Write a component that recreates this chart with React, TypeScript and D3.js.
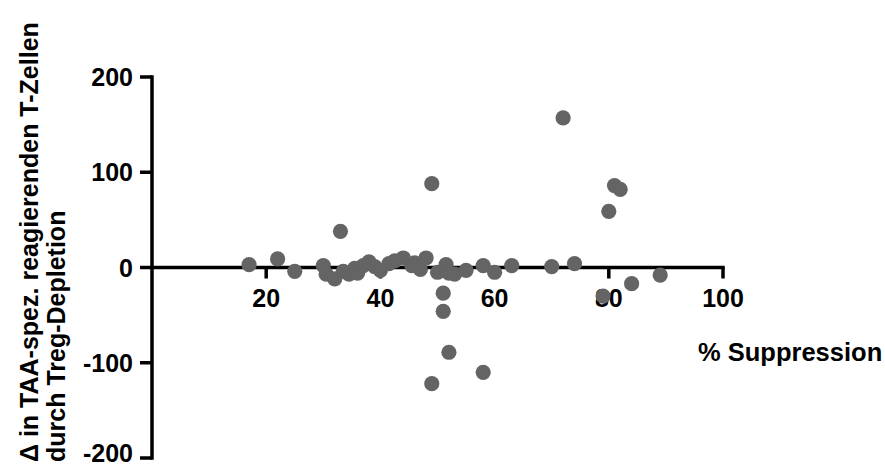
import React from "react";
import * as d3 from "d3";

const xValues = [17, 22, 25, 30, 30.5, 32, 33, 33.5, 34.5, 35.5, 36, 37, 38, 39, 40, 41.5, 42.5, 44, 45.5, 46, 47, 48, 50, 51.5, 52, 53, 55, 58, 60, 63, 49, 51, 51, 52, 49, 58, 70, 74, 72, 81, 82, 80, 79, 84, 89];
const yValues = [3, 9, -4, 2, -7, -12, 38, -4, -7, -1, -6, 2, 6, 1, -3, 4, 7, 10, 2, 5, -2, 10, -5, 3, -6, -7, -3, 2, -5, 2, 88, -27, -46, -89, -122, -110, 1, 4, 157, 86, 82, 59, -30, -17, -8];
const yTicks = [200, 100, 0, -100, -200];
const xTicks = [20, 40, 60, 80, 100];
const yLabelLines = ["\u0394 in TAA-spez. reagierenden T-Zellen", "durch Treg-Depletion"];
const xLabel = "% Suppression";

export default function App() {
  const W = 885, H = 468;
  const x = d3.scaleLinear().domain([0, 100]).range([152, 723]);
  const y = d3.scaleLinear().domain([-200, 200]).range([458, 77]);
  const font = "'Liberation Sans', Arial, sans-serif";
  const sw = 3.5;
  const dotColor = "#646464";
  return (
    <svg width={W} height={H} style={{ position: "absolute", left: 0, top: 0, background: "#fff" }}>
      {/* y axis */}
      <line x1={x(0)} x2={x(0)} y1={y(200) - sw / 2} y2={y(-200) + sw / 2} stroke="#000" strokeWidth={sw} />
      {yTicks.map((t) => (
        <g key={"yt" + t}>
          <line x1={x(0) - 12} x2={x(0)} y1={y(t)} y2={y(t)} stroke="#000" strokeWidth={sw} />
          <text x={133} y={Math.min(y(t) + 9, 462)} textAnchor="end" fontFamily={font} fontWeight="bold" fontSize={25} fill="#000">{t}</text>
        </g>
      ))}
      {/* x axis */}
      <line x1={x(0)} x2={x(100) + sw / 2} y1={y(0)} y2={y(0)} stroke="#000" strokeWidth={sw} />
      {xTicks.map((t) => (
        <g key={"xt" + t}>
          <line x1={x(t)} x2={x(t)} y1={y(0)} y2={y(0) + 11} stroke="#000" strokeWidth={sw} />
          <text x={x(t)} y={307} textAnchor="middle" fontFamily={font} fontWeight="bold" fontSize={25} fill="#000">{t}</text>
        </g>
      ))}
      {/* points */}
      {xValues.map((v, i) => (
        <circle key={"p" + i} cx={x(v)} cy={y(yValues[i])} r={7.6} fill={dotColor} />
      ))}
      {/* labels */}
      <text x={698} y={361} fontFamily={font} fontWeight="bold" fontSize={25.5} fill="#000">{xLabel}</text>
      {yLabelLines.map((s, i) => (
        <text key={"yl" + i} transform={`translate(${38 + i * 27},462) rotate(-90)`} textAnchor="start" fontFamily={font} fontWeight="bold" fontSize={25} fill="#000">{s}</text>
      ))}
    </svg>
  );
}
